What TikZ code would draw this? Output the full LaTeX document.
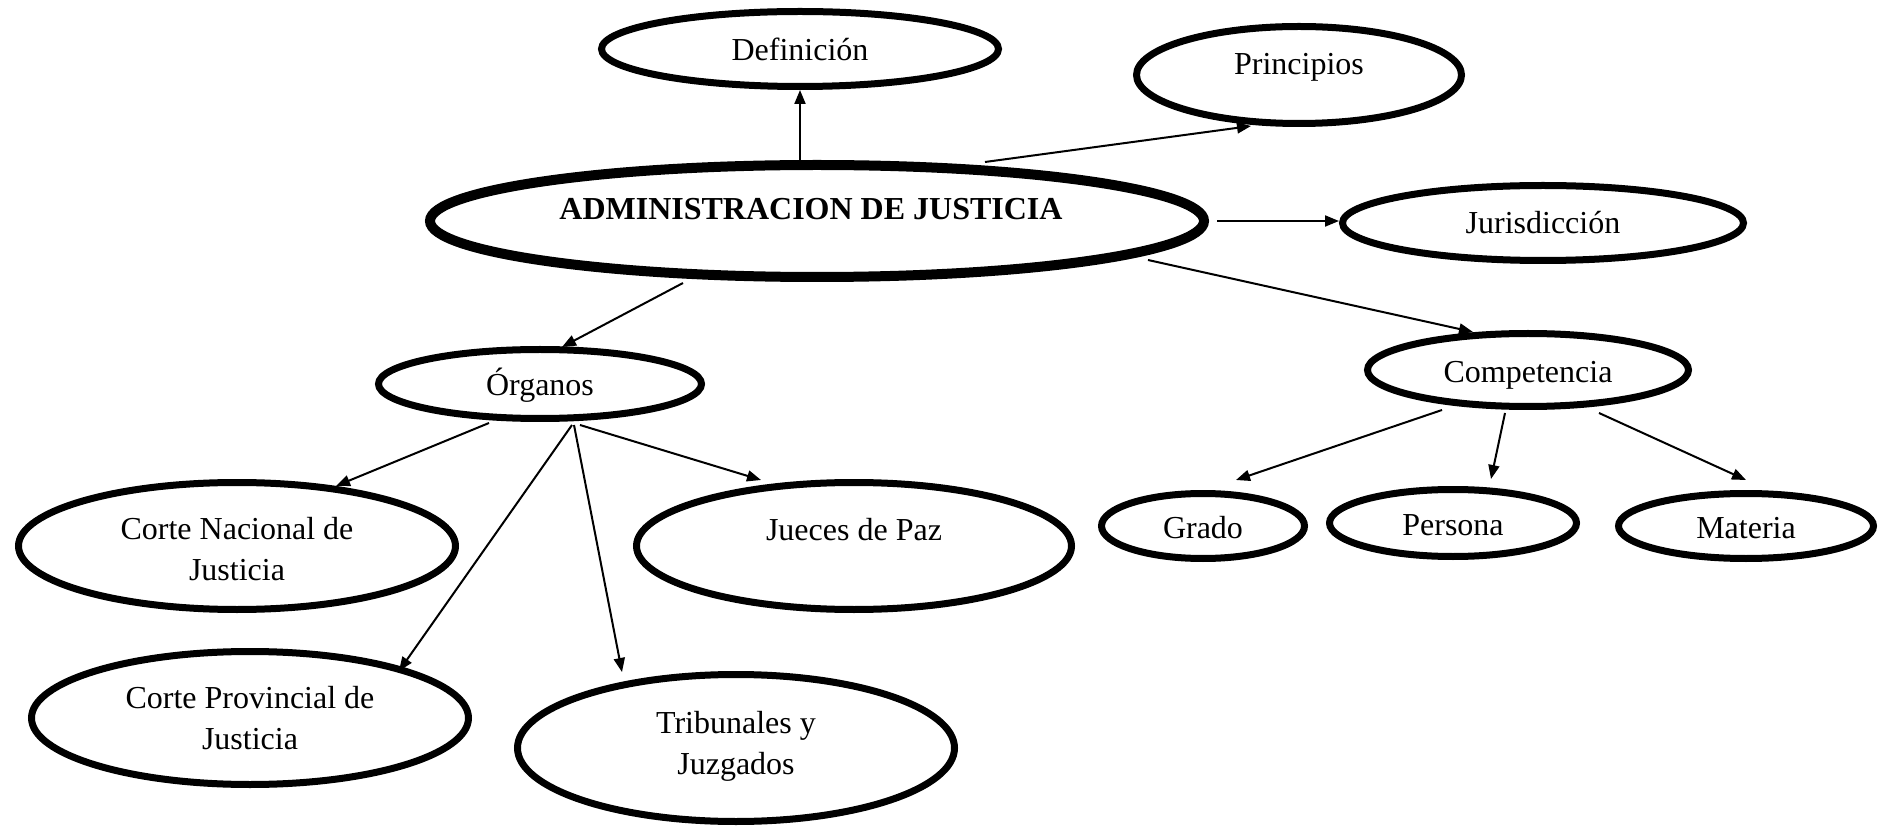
\documentclass[tikz,border=0pt]{standalone}
\usepackage{fontspec}
\setmainfont{Liberation Serif}
\usetikzlibrary{shapes.geometric,arrows.meta,calc}
\begin{document}
\begin{tikzpicture}[x=0.5pt,y=-0.5pt,
  oval/.style={ellipse,draw,line width=3.5pt,inner sep=0pt},
  bigoval/.style={oval,line width=5pt},
  lbl/.style={inner sep=0pt,anchor=base,font=\fontsize{16}{20.5}\selectfont},
  lbl2/.style={inner sep=0pt,align=center,font=\fontsize{16}{20.5}\selectfont},
  arr/.style={line width=1pt,-{Triangle[length=7pt,width=5.5pt]}}]
\useasboundingbox (0,0) rectangle (1895,828);

% ovals
\node[oval,minimum width=198.5pt,minimum height=37.5pt] (def) at (800,49) {};
\node[oval,minimum width=162.5pt,minimum height=48.5pt] (prin) at (1299,75) {};
\node[bigoval,minimum width=387pt,minimum height=56pt] (admin) at (817,221) {};
\node[oval,minimum width=200.5pt,minimum height=37.5pt] (jur) at (1543,223) {};
\node[oval,minimum width=161.5pt,minimum height=34.5pt] (org) at (540,384) {};
\node[oval,minimum width=160.5pt,minimum height=36.5pt] (comp) at (1528,370) {};
\node[oval,minimum width=218.5pt,minimum height=63.5pt] (cn) at (237,546) {};
\node[oval,minimum width=217.5pt,minimum height=63.5pt] (jp) at (854,546) {};
\node[oval,minimum width=101.5pt,minimum height=32.5pt] (grado) at (1203,526) {};
\node[oval,minimum width=123.5pt,minimum height=33.5pt] (pers) at (1453,523) {};
\node[oval,minimum width=127.5pt,minimum height=32.5pt] (mat) at (1746,526) {};
\node[oval,minimum width=218.5pt,minimum height=66.5pt] (cp) at (250,718) {};
\node[oval,minimum width=218.5pt,minimum height=73.5pt] (tj) at (736,748) {};

% texts
\node[lbl] (defl) at ($(def.center)+(0,12)$) {Definición};
\node[lbl] (prinl) at ($(prin.center)+(0,0)$) {Principios};
\node[lbl,font=\fontsize{16}{20.5}\selectfont\bfseries] (adminl) at ($(admin.center)+(-6,-1)$) {ADMINISTRACION DE JUSTICIA};
\node[lbl] (jurl) at ($(jur.center)+(0,11)$) {Jurisdicción};
\node[lbl] (orgl) at ($(org.center)+(0,11.5)$) {Órganos};
\node[lbl] (compl) at ($(comp.center)+(0,13)$) {Competencia};
\node[lbl] (jpl) at ($(jp.center)+(0,-6)$) {Jueces de Paz};
\node[lbl] (gradol) at ($(grado.center)+(0,12)$) {Grado};
\node[lbl] (persl) at ($(pers.center)+(0,12)$) {Persona};
\node[lbl] (matl) at ($(mat.center)+(0,12)$) {Materia};
\node[lbl2] (cnl) at ($(cn.center)+(0,3.5)$) {Corte Nacional de\\Justicia};
\node[lbl2] (cpl) at ($(cp.center)+(0,0)$) {Corte Provincial de\\Justicia};
\node[lbl2] (tjl) at ($(tj.center)+(0,-2)$) {Tribunales y\\Juzgados};

% connectors
\draw[arr] (def.south |- admin.north) -- (def.south);
\draw[arr] ($(admin.center)+(168,-59)$) -- ($(prin.center)+(-48,51)$);
\draw[arr] ($(admin.east)+(8,0)$) -- (jur.west |- admin.east);
\draw[arr] ($(admin.center)+(331,39)$) -- ($(comp.center)+(-55,-38)$);
\draw[arr] ($(admin.center)+(-134,62)$) -- ($(org.center)+(22,-37)$);

\draw[arr] ($(org.center)+(-51,39)$) -- ($(cn.center)+(99,-60)$);
\draw[arr] ($(org.center)+(40,41)$) -- ($(jp.center)+(-93,-66)$);
\draw[arr] ($(org.center)+(32,41)$) -- ($(cp.center)+(149,-47)$);
\draw[arr] ($(org.center)+(34,41)$) -- ($(tj.center)+(-114,-76)$);

\draw[arr] ($(comp.center)+(-86,40)$) -- ($(grado.center)+(33,-46)$);
\draw[arr] ($(comp.center)+(-23,43)$) -- ($(pers.center)+(38,-44)$);
\draw[arr] ($(comp.center)+(71,43)$) -- ($(mat.center)+(0,-46)$);
\end{tikzpicture}
\end{document}
